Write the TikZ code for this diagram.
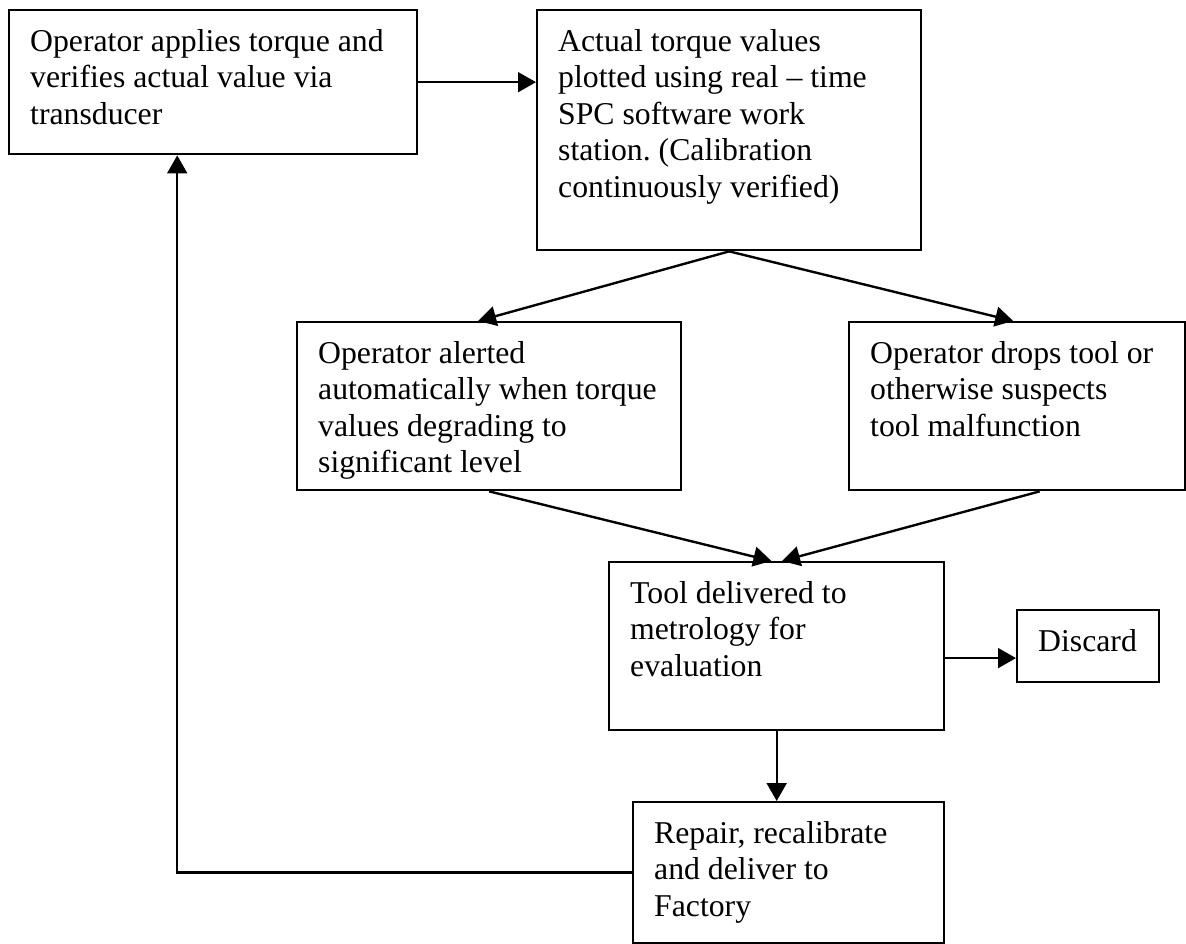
\documentclass[tikz,border=0pt]{standalone}
\usepackage{fontspec}
\setmainfont{Liberation Serif}
\usetikzlibrary{arrows.meta}
\frenchspacing
\newdimen\PX \PX=0.378pt
\newcommand\boxtxt[3]{\parbox[c][#2\PX][t]{#1\PX}{\vspace*{5.84pt}\raggedright\leftskip=21\PX\relax\strut #3}}
\begin{document}
\begin{tikzpicture}[x=0.378pt,y=-0.378pt,
  box/.style={draw, line width=0.9pt, inner sep=0pt, anchor=north west,
    font=\fontsize{12pt}{13.8pt}\selectfont},
  arr/.style={line width=0.9pt, -{Triangle[length=6.8pt,width=7.5pt]}}]
\useasboundingbox (0,0) rectangle (1186,944);
\node[box] (b1) at (8,9) {\boxtxt{408}{144}{Operator applies torque and\\verifies actual value via\\transducer}};
\node[box] (b2) at (536,9) {\boxtxt{384}{240}{Actual torque values\\plotted using real \textendash{} time\\SPC software work\\station. (Calibration\\continuously verified)}};
\node[box] (b3) at (296,321) {\boxtxt{384}{168}{Operator alerted\\automatically when torque\\values degrading to\\significant level}};
\node[box] (b4) at (848,321) {\boxtxt{336}{168}{Operator drops tool or\\otherwise suspects\\tool malfunction}};
\node[box] (b5) at (608,561) {\boxtxt{335}{168}{Tool delivered to\\metrology for\\evaluation}};
\node[box] (b6) at (1016,609) {\boxtxt{142}{72}{Discard}};
\node[box] (b7) at (632,801) {\boxtxt{311}{141}{Repair, recalibrate\\and deliver to\\Factory}};
\draw[arr] (b1.east) -- (b1.east -| b2.west);
\draw[arr] (b2.south) -- ([xshift=-4.2pt]b3.north);
\draw[arr] (b2.south) -- ([xshift=-1.5pt]b4.north);
\draw[arr] (b3.south) -- ([xshift=-2pt]b5.north);
\draw[arr] ([xshift=8.5pt]b4.south) -- ([xshift=2pt]b5.north);
\draw[arr] (b5.south) -- (b5.south |- b7.north);
\draw[arr] ([yshift=-4.5pt]b5.east) -- ([yshift=-4.5pt]b5.east -| b6.west);
\draw[arr] (b7.west) -| ([xshift=-13.6pt]b1.south);
\end{tikzpicture}
\end{document}
